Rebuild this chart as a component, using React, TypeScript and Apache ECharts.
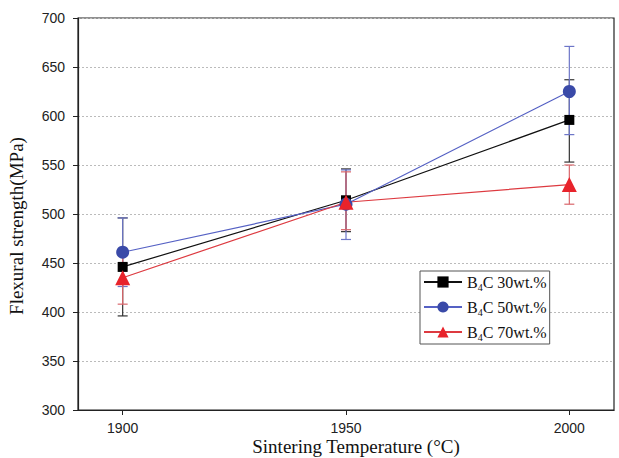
import React, { useEffect, useRef } from "react";
import * as echarts from "echarts";

const temperatures = [1900, 1950, 2000];
const seriesNames = ["B4C 30wt.%", "B4C 50wt.%", "B4C 70wt.%"];
const values30 = [446, 514, 596];
const values50 = [461, 510, 625];
const values70 = [435, 512, 530];
const low30 = [396, 482, 553];
const high30 = [496, 546, 637];
const low50 = [426, 474, 581];
const high50 = [496, 545, 671];
const low70 = [408, 484, 510];
const high70 = [462, 543, 550];
const yTicks = [300, 350, 400, 450, 500, 550, 600, 650, 700];

const colors = ["#000000", "#3a4aa8", "#e8232b"];
const lineColors = ["#111111", "#5561c4", "#dd3a40"];
const errColors = ["#333333", "#6d76c8", "#d9666b"];
const symbols = ["rect", "circle", "triangle"];
const symbolSizes = [10, 13, 15];

export default function App() {
  const ref = useRef<HTMLDivElement>(null);
  useEffect(() => {
    if (!ref.current) return;
    const chart = echarts.init(ref.current, undefined, { renderer: "svg" });
    const vals = [values30, values50, values70];
    const lows = [low30, low50, low70];
    const highs = [high30, high50, high70];

    const errSeries = vals.map((_, i) => ({
      type: "custom",
      name: "err" + i,
      z: 1,
      silent: true,
      data: temperatures.map((t, j) => [t, lows[i][j], highs[i][j]]),
      renderItem: (params: any, api: any) => {
        const lo = api.coord([api.value(0), api.value(1)]);
        const hi = api.coord([api.value(0), api.value(2)]);
        const w = 5;
        const style = { stroke: errColors[i], lineWidth: 1.2 };
        return {
          type: "group",
          children: [
            { type: "line", shape: { x1: lo[0], y1: lo[1], x2: hi[0], y2: hi[1] }, style },
            { type: "line", shape: { x1: lo[0] - w, y1: lo[1], x2: lo[0] + w, y2: lo[1] }, style },
            { type: "line", shape: { x1: hi[0] - w, y1: hi[1], x2: hi[0] + w, y2: hi[1] }, style },
          ],
        };
      },
    }));

    const lineSeries = vals.map((v, i) => ({
      type: "line",
      name: seriesNames[i],
      z: 3,
      data: temperatures.map((t, j) => [t, v[j]]),
      symbol: symbols[i],
      symbolSize: symbolSizes[i],
      itemStyle: { color: colors[i] },
      lineStyle: { color: lineColors[i], width: 1.2 },
    }));

    chart.setOption({
      animation: false,
      backgroundColor: "#ffffff",
      grid: {
        left: 78,
        top: 18,
        right: 5,
        bottom: 48,
        show: true,
        outerBoundsMode: "none",
        containLabel: false,
        borderColor: "#222",
        borderWidth: 1.2,
      },
      legend: {
        data: seriesNames,
        orient: "vertical",
        left: 420,
        top: 271,
        backgroundColor: "#fff",
        borderColor: "#555",
        borderWidth: 1,
        padding: [3, 3, 2, 3],
        itemGap: 7,
        itemWidth: 38,
        itemHeight: 14,
        formatter: (name: string) => {
          const rest = name.slice(3).trim();
          return "{a|B}{s|4}{a|C " + rest + "}";
        },
        textStyle: {
          rich: {
            a: { fontFamily: "Liberation Serif", fontSize: 16, color: "#111" },
            s: { fontFamily: "Liberation Serif", fontSize: 10, color: "#111", padding: [10, 0, 0, 0] },
          },
        },
      },
      xAxis: {
        type: "value",
        min: 1890,
        max: 2010,
        name: "Sintering Temperature (°C)",
        nameLocation: "middle",
        nameGap: 27,
        nameMoveOverlap: false,
        nameTextStyle: { fontFamily: "Liberation Serif", fontSize: 19, color: "#111", padding: [0, 0, 0, 20] },
        splitLine: { show: false },
        axisLine: { lineStyle: { color: "#222", width: 1.2 } },
        axisTick: { show: true, length: 5, customValues: temperatures, lineStyle: { color: "#222" } },
        axisLabel: {
          customValues: temperatures,
          formatter: (v: number) => String(v),
          fontFamily: "Liberation Sans",
          fontSize: 14,
          color: "#222",
          margin: 11,
        },
      },
      yAxis: {
        type: "value",
        min: yTicks[0],
        max: yTicks[yTicks.length - 1],
        interval: 50,
        name: "Flexural strength(MPa)",
        nameLocation: "middle",
        nameGap: 52,
        nameTextStyle: { fontFamily: "Liberation Serif", fontSize: 19, color: "#111", padding: [0, 24, 0, 0] },
        axisLine: { show: true, lineStyle: { color: "#222", width: 1.2 } },
        axisTick: { show: true, length: 5, lineStyle: { color: "#222" } },
        axisLabel: { fontFamily: "Liberation Sans", fontSize: 14, color: "#222", margin: 13 },
        splitLine: { show: true, lineStyle: { color: "#bbbbbb", type: [2, 2], width: 1 } },
      },
      series: [...errSeries, ...lineSeries],
    });
    return () => chart.dispose();
  }, []);
  return (
    <div
      ref={ref}
      style={{ position: "fixed", left: 0, top: 0, width: 619, height: 458, background: "#fff" }}
    />
  );
}
